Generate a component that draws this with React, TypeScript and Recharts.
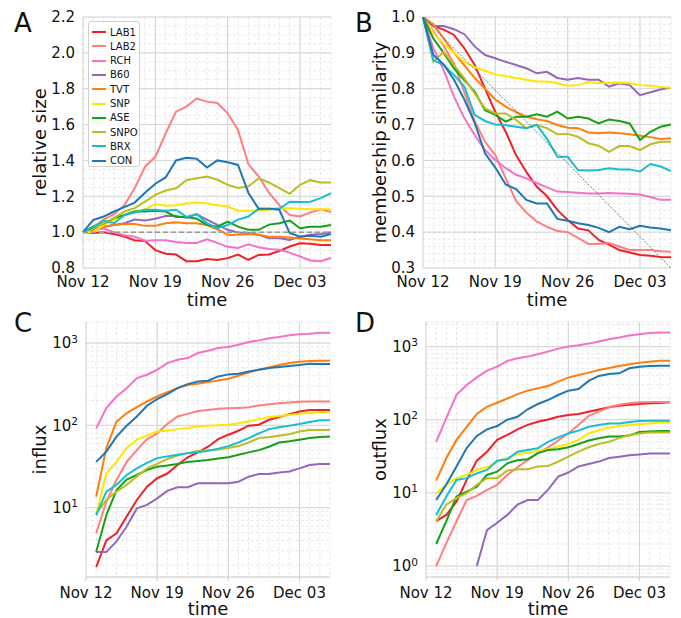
import React from 'react';
import { LineChart, Line, XAxis, YAxis, CartesianGrid, ReferenceLine, Label } from 'recharts';

const FONT = '"DejaVu Sans", sans-serif';
const INK = '#111';

/* ─── DATA ─────────────────────────────────────── */
const DATES = [
  'Nov 12', 'Nov 13', 'Nov 14', 'Nov 15', 'Nov 16', 'Nov 17', 'Nov 18', 'Nov 19', 'Nov 20',
  'Nov 21', 'Nov 22', 'Nov 23', 'Nov 24', 'Nov 25', 'Nov 26', 'Nov 27', 'Nov 28', 'Nov 29',
  'Nov 30', 'Dec 01', 'Dec 02', 'Dec 03', 'Dec 04', 'Dec 05', 'Dec 06',
];
const MAJOR_DATES = ['Nov 12', 'Nov 19', 'Nov 26', 'Dec 03'];

const GROUPS = ['LAB1', 'LAB2', 'RCH', 'B60', 'TVT', 'SNP', 'ASE', 'SNPO', 'BRX', 'CON'];
const COLORS = ['#f0202a', '#ff7f7f', '#f870c8', '#9467bd', '#ff7f0e', '#ffe600', '#16a016', '#bcbd22', '#17becf', '#1f77b4'];

// A: relative size, Nov 12 .. Dec 06 (rows follow GROUPS)
const SIZE = [
  [1.0, 0.995, 1.0, 0.99, 0.975, 0.955, 0.95, 0.9, 0.88, 0.875, 0.838, 0.838, 0.85, 0.845, 0.855, 0.875, 0.845, 0.873, 0.875, 0.895, 0.92, 0.938, 0.935, 0.928, 0.928],
  [1.0, 1.03, 1.07, 1.1, 1.15, 1.244, 1.365, 1.42, 1.55, 1.672, 1.7, 1.745, 1.728, 1.72, 1.663, 1.57, 1.38, 1.31, 1.22, 1.15, 1.095, 1.087, 1.11, 1.128, 1.112],
  [1.0, 1.01, 1.02, 1.0, 0.983, 0.975, 0.952, 0.955, 0.955, 0.945, 0.94, 0.94, 0.96, 0.94, 0.918, 0.912, 0.932, 0.916, 0.906, 0.902, 0.886, 0.865, 0.842, 0.838, 0.856],
  [1.0, 1.02, 1.03, 1.04, 1.05, 1.07, 1.065, 1.075, 1.09, 1.09, 1.08, 1.1, 1.07, 1.04, 1.013, 0.998, 0.995, 0.985, 0.966, 0.966, 0.957, 0.975, 0.985, 0.99, 1.0],
  [1.0, 1.01, 1.03, 1.04, 1.045, 1.045, 1.035, 1.035, 1.05, 1.055, 1.05, 1.05, 1.04, 1.016, 0.985, 0.985, 0.99, 0.985, 0.975, 0.975, 0.97, 0.965, 0.96, 0.955, 0.955],
  [1.0, 1.0, 1.04, 1.068, 1.096, 1.115, 1.128, 1.156, 1.147, 1.15, 1.16, 1.165, 1.16, 1.15, 1.143, 1.12, 1.12, 1.12, 1.125, 1.133, 1.133, 1.13, 1.128, 1.128, 1.128],
  [1.0, 1.03, 1.048, 1.078, 1.096, 1.115, 1.115, 1.12, 1.115, 1.085, 1.085, 1.075, 1.04, 1.03, 1.059, 1.031, 1.013, 1.013, 1.042, 1.05, 1.065, 1.022, 1.03, 1.03, 1.04],
  [1.0, 1.02, 1.05, 1.078, 1.115, 1.134, 1.17, 1.208, 1.232, 1.245, 1.29, 1.3, 1.31, 1.292, 1.264, 1.246, 1.255, 1.3, 1.277, 1.246, 1.214, 1.264, 1.29, 1.277, 1.277],
  [1.0, 1.025, 1.065, 1.05, 1.095, 1.11, 1.125, 1.125, 1.12, 1.125, 1.085, 1.1, 1.05, 1.022, 1.04, 1.07, 1.087, 1.13, 1.13, 1.13, 1.17, 1.168, 1.17, 1.19, 1.218],
  [1.0, 1.068, 1.087, 1.115, 1.14, 1.165, 1.22, 1.27, 1.305, 1.4, 1.415, 1.41, 1.36, 1.4, 1.39, 1.375, 1.22, 1.13, 1.13, 1.125, 0.995, 0.975, 0.98, 0.975, 0.99],
];

// B: membership similarity, Nov 12 .. Dec 06
const SIMILARITY = [
  [1.0, 0.975, 0.965, 0.95, 0.913, 0.866, 0.8, 0.735, 0.68, 0.615, 0.568, 0.527, 0.5, 0.462, 0.434, 0.41, 0.405, 0.378, 0.365, 0.35, 0.343, 0.336, 0.334, 0.331, 0.33],
  [1.0, 0.96, 0.92, 0.87, 0.79, 0.71, 0.652, 0.615, 0.55, 0.487, 0.455, 0.43, 0.415, 0.403, 0.4, 0.384, 0.367, 0.367, 0.37, 0.36, 0.35, 0.35, 0.35, 0.347, 0.345],
  [1.0, 0.913, 0.852, 0.778, 0.718, 0.671, 0.629, 0.601, 0.579, 0.56, 0.55, 0.537, 0.525, 0.513, 0.512, 0.51, 0.508, 0.508, 0.509, 0.508, 0.507, 0.505, 0.498, 0.49, 0.49],
  [1.0, 0.975, 0.975, 0.966, 0.952, 0.918, 0.894, 0.885, 0.875, 0.866, 0.857, 0.843, 0.847, 0.83, 0.825, 0.83, 0.825, 0.825, 0.806, 0.815, 0.81, 0.782, 0.79, 0.798, 0.803],
  [1.0, 0.98, 0.94, 0.9, 0.865, 0.83, 0.8, 0.77, 0.75, 0.735, 0.722, 0.715, 0.71, 0.699, 0.691, 0.69, 0.678, 0.676, 0.678, 0.676, 0.673, 0.669, 0.665, 0.66, 0.662],
  [1.0, 0.955, 0.925, 0.9, 0.875, 0.86, 0.85, 0.84, 0.835, 0.83, 0.825, 0.82, 0.82, 0.815, 0.808, 0.81, 0.818, 0.815, 0.816, 0.817, 0.815, 0.81, 0.808, 0.805, 0.803],
  [1.0, 0.94, 0.9, 0.857, 0.824, 0.792, 0.74, 0.727, 0.708, 0.722, 0.722, 0.729, 0.722, 0.736, 0.717, 0.722, 0.717, 0.703, 0.714, 0.71, 0.703, 0.657, 0.68, 0.694, 0.7],
  [1.0, 0.875, 0.903, 0.866, 0.829, 0.787, 0.745, 0.731, 0.731, 0.713, 0.69, 0.699, 0.69, 0.673, 0.674, 0.666, 0.648, 0.641, 0.624, 0.64, 0.64, 0.629, 0.645, 0.652, 0.652],
  [1.0, 0.88, 0.866, 0.838, 0.806, 0.727, 0.71, 0.7, 0.698, 0.694, 0.69, 0.7, 0.66, 0.61, 0.61, 0.573, 0.572, 0.573, 0.578, 0.575, 0.575, 0.569, 0.59, 0.583, 0.57],
  [1.0, 0.894, 0.868, 0.825, 0.77, 0.705, 0.62, 0.58, 0.533, 0.52, 0.49, 0.48, 0.48, 0.437, 0.432, 0.425, 0.42, 0.412, 0.4, 0.415, 0.408, 0.418, 0.413, 0.41, 0.405],
];

// C: influx, Nov 13 .. Dec 06
const INFLUX = [
  [1.9, 4.0, 4.9, 7.8, 12.4, 18, 22.8, 26, 33, 41, 47, 55, 68, 77, 86, 99, 102, 117, 126, 137, 147, 154, 154, 154],
  [4.9, 11.8, 21.7, 36, 50, 68, 80, 104, 128, 138, 149, 154, 159, 161, 163, 166, 174, 181, 186, 190, 193, 195, 195, 195],
  [92, 162, 224, 283, 375, 412, 473, 571, 627, 657, 756, 807, 869, 894, 954, 1028, 1077, 1140, 1183, 1240, 1274, 1299, 1336, 1336],
  [2.9, 2.9, 3.9, 5.9, 9.8, 10.8, 13, 16, 17.7, 17.7, 19.8, 19.8, 19.8, 19.8, 20.7, 23.8, 25.7, 25.7, 26.7, 27.5, 30, 33, 34, 34],
  [13.6, 53, 111, 141, 166, 195, 224, 253, 283, 308, 320, 335, 351, 368, 400, 439, 473, 505, 540, 571, 593, 604, 609, 609],
  [8.1, 26, 36, 53, 67, 75, 84, 86, 90, 93, 97, 99, 100, 102, 106, 112, 119, 126, 130, 134, 138, 141, 144, 145],
  [2.9, 8.1, 16.4, 22, 25, 28.7, 31.5, 32.5, 34, 36, 37, 38, 39.5, 41, 44, 47, 50, 55, 62, 64, 67, 70, 72, 73],
  [8.5, 12.4, 15.7, 18.9, 24, 30, 34, 39, 43, 46, 49, 50, 51, 53, 56, 62, 70, 72, 75, 78, 84, 88, 88, 88],
  [8.1, 15.7, 18.9, 25, 30, 35, 40, 42, 44, 46, 47, 49, 52, 56, 62, 70, 80, 90, 95, 99, 104, 110, 115, 115],
  [36, 48, 73, 99, 128, 173, 208, 239, 283, 317, 341, 348, 393, 416, 424, 452, 473, 497, 511, 525, 540, 560, 555, 555],
];

// D: outflux, Nov 13 .. Dec 06 (B60 has no outflux before Nov 17)
const OUTFLUX = [
  [4.1, 5.0, 7.6, 15, 27.6, 36.6, 53, 62, 74, 85, 94, 101, 110, 116, 120, 129, 138, 148, 155, 160, 164, 168, 170, 173],
  [1.0, 2.06, 4.1, 8, 9.1, 11, 12.9, 17.6, 22.4, 28, 35, 42, 52, 65, 85, 113, 129, 148, 160, 168, 173, 175, 175, 175],
  [50, 105, 219, 299, 380, 470, 532, 637, 692, 730, 785, 853, 939, 1000, 1043, 1099, 1171, 1260, 1328, 1414, 1475, 1538, 1555, 1555],
  [null, null, null, null, 1.0, 3.1, 3.9, 5.0, 6.9, 8.0, 8.0, 11, 16.7, 19, 23, 24.9, 26.8, 30, 31.3, 32.7, 33.6, 34.5, 34.5, 34.5],
  [14.7, 30, 53, 80, 120, 151, 171, 195, 224, 250, 269, 290, 332, 377, 409, 441, 479, 510, 544, 573, 603, 623, 643, 643],
  [9.9, 12.9, 15.9, 17.6, 20.6, 22.4, 26.8, 30, 34, 35.5, 37.5, 39.5, 43, 46.7, 53, 65, 72, 78, 82, 85, 87, 89, 92, 92],
  [2.0, 4.1, 8.9, 10.4, 12.2, 17.6, 19.5, 25.4, 28, 28.8, 35, 38.6, 39.5, 42, 46.7, 52, 56, 59, 59, 61, 68, 69, 70, 70],
  [4.1, 6.9, 8.5, 9.9, 12.9, 15.9, 15.9, 20.2, 21, 21, 23, 23.4, 26.8, 31.3, 36.6, 42, 46.7, 50, 56, 62, 65, 67, 67, 67],
  [5.0, 8.9, 15, 15.9, 18.5, 20.6, 27.6, 28.8, 36.6, 38.6, 40.7, 50, 57.5, 65, 71, 80, 85, 89, 89, 93, 96, 97, 97, 97],
  [8, 13, 23, 41, 60, 74, 82, 100, 110, 139, 164, 186, 218, 250, 263, 339, 397, 422, 431, 506, 532, 544, 549, 549],
];

/* ─── HELPERS ─────────────────────────────────────── */
const toRows = (table: (number | null)[][]) => {
  const skip = DATES.length - table[0].length;
  return DATES.map((date, i) => {
    const row: any = { date };
    GROUPS.forEach((g, k) => { row[g] = i < skip ? null : table[k][i - skip]; });
    return row;
  });
};

const linTicks = (lo: number, hi: number, step: number) => {
  const out: number[] = [];
  for (let i = 0; lo + i * step <= hi + 1e-9; i++) out.push(Math.round((lo + i * step) * 1000) / 1000);
  return out;
};

const logTicks = (lo: number, hi: number) => {
  const out: number[] = [];
  for (let e = -1; e <= 4; e++) for (let m = 1; m <= 9; m++) {
    const v = +(m * Math.pow(10, e)).toPrecision(3);
    if (v >= lo && v <= hi) out.push(v);
  }
  return out;
};

const isDecade = (v: number) => { const e = Math.log10(v); return Math.abs(e - Math.round(e)) < 1e-9; };

/* ─── TICKS & TITLES ─────────────────────────────────────── */
const DateTick = ({ x, y, payload, mark }: any) => {
  if (!MAJOR_DATES.includes(payload.value)) return <g />;
  return (
    <g>
      {mark && <line x1={x} x2={x} y1={y - 10} y2={y - 6} stroke="#cccccc" />}
      <text x={x} y={y} dy="0.71em" textAnchor="middle" fontSize={15} fill={INK} fontFamily={FONT}>{payload.value}</text>
    </g>
  );
};

const NumTick = ({ x, y, payload, step }: any) => {
  const v = payload.value;
  if (Math.abs(v / step - Math.round(v / step)) > 1e-6) return <g />;
  return <text x={x} y={y} dy="0.355em" textAnchor="end" fontSize={15} fill={INK} fontFamily={FONT}>{v.toFixed(1)}</text>;
};

const PowTick = ({ x, y, payload }: any) => {
  if (!isDecade(payload.value)) return <g />;
  return (
    <text x={x} y={y} dy="0.355em" textAnchor="end" fontSize={15} fill={INK} fontFamily={FONT}>
      10<tspan dy="-0.55em" fontSize={10.5}>{Math.round(Math.log10(payload.value))}</tspan>
    </text>
  );
};

const yTitle = (text: string) => ({ viewBox }: any) => {
  const x = viewBox.x + 46, y = viewBox.y + viewBox.height / 2;
  return <text x={x} y={y} transform={`rotate(-90, ${x}, ${y})`} textAnchor="middle" fontSize={18} fill={INK} fontFamily={FONT}>{text}</text>;
};
const xTitle = ({ viewBox }: any) => (
  <text x={viewBox.x + viewBox.width / 2} y={viewBox.y + 38} textAnchor="middle" fontSize={18} fill={INK} fontFamily={FONT}>time</text>
);

/* ─── PANEL ─────────────────────────────────────── */
type PanelProps = {
  left: number; top: number; width: number; height: number; yWidth: number; marginTop: number; marginRight: number;
  rows: any[]; title: string; log?: boolean; domain: [number, number]; ticks: number[]; majors: number[]; step?: number;
  letter: string; children?: React.ReactNode;
};

const Panel = (p: PanelProps) => (
  <div style={{ position: 'absolute', left: p.left, top: p.top }}>
    <LineChart width={p.width} height={p.height} data={p.rows} margin={{ top: p.marginTop, right: p.marginRight, left: 0, bottom: 0 }}>
      <CartesianGrid stroke="#e9e9e9" strokeDasharray="3 2" />
      <CartesianGrid stroke="#d4d4d4" horizontalValues={p.majors} verticalValues={MAJOR_DATES} />
      <XAxis dataKey="date" type="category" interval={0} height={p.height - p.marginTop - (p.log ? 255 : 251)}
        tickLine={false} axisLine={p.log ? { stroke: '#cccccc' } : false} tickMargin={p.log ? 4 : 2}
        tick={<DateTick mark={p.log} />}>
        <Label content={xTitle} />
      </XAxis>
      <YAxis type="number" width={p.yWidth} domain={p.domain} ticks={p.ticks} interval={0} allowDataOverflow
        scale={p.log ? 'log' : 'linear'} tickLine={false} axisLine={false}
        tick={p.log ? <PowTick /> : <NumTick step={p.step} />}>
        <Label content={yTitle(p.title)} />
      </YAxis>
      {GROUPS.map((g, i) => (
        <Line key={g} type="linear" dataKey={g} stroke={COLORS[i]} strokeWidth={2} dot={false} activeDot={false} isAnimationActive={false} />
      ))}
      {p.children}
    </LineChart>
    <div style={{ position: 'absolute', left: p.letter === 'A' || p.letter === 'C' ? 14 : 15, top: 10, fontFamily: FONT, fontSize: 26, lineHeight: 1, color: INK }}>{p.letter}</div>
  </div>
);

const LegendBox = () => (
  <div style={{ position: 'absolute', left: 88, top: 21, width: 52, height: 146, boxSizing: 'border-box', border: '1px solid #d0d0d0', borderRadius: 3, background: 'rgba(255,255,255,0.85)', fontFamily: FONT, fontSize: 10, color: INK }}>
    {GROUPS.map((g, i) => (
      <div key={g} style={{ position: 'absolute', left: 3, top: 3 + i * 14.3, height: 14, display: 'flex', alignItems: 'center' }}>
        <span style={{ display: 'inline-block', width: 14, height: 2, background: COLORS[i], marginRight: 4 }} />
        <span>{g}</span>
      </div>
    ))}
  </div>
);

export default function App() {
  return (
    <div style={{ position: 'absolute', left: 0, top: 0, width: 681, height: 618, background: '#fff', overflow: 'hidden' }}>
      <Panel left={0} top={0} width={340} height={312} yWidth={83} marginTop={17} marginRight={9}
        rows={toRows(SIZE)} title="relative size" domain={[0.8, 2.2]} ticks={linTicks(0.8, 2.2, 0.05)}
        majors={linTicks(0.8, 2.2, 0.2)} step={0.2} letter="A">
        <ReferenceLine y={1} stroke="#9a9a9a" strokeWidth={1.5} strokeDasharray="5 3" />
      </Panel>
      <Panel left={340} top={0} width={341} height={312} yWidth={83} marginTop={17} marginRight={10}
        rows={toRows(SIMILARITY)} title="membership similarity" domain={[0.3, 1.0]} ticks={linTicks(0.3, 1.0, 0.02)}
        majors={linTicks(0.3, 1.0, 0.1)} step={0.1} letter="B">
        <ReferenceLine segment={[{ x: 'Nov 12', y: 1.0 }, { x: 'Dec 06', y: 0.3 }]} stroke="#555555" strokeWidth={0.8} strokeDasharray="2 1.5" />
      </Panel>
      <Panel left={0} top={300} width={340} height={318} yWidth={86} marginTop={22} marginRight={10}
        rows={toRows(INFLUX)} title="influx" log domain={[1.44, 1800]} ticks={logTicks(1.44, 1800)}
        majors={[10, 100, 1000]} letter="C" />
      <Panel left={340} top={300} width={341} height={318} yWidth={86} marginTop={22} marginRight={11}
        rows={toRows(OUTFLUX)} title="outflux" log domain={[0.708, 2170]} ticks={logTicks(0.708, 2170)}
        majors={[1, 10, 100, 1000]} letter="D" />
      <LegendBox />
    </div>
  );
}
